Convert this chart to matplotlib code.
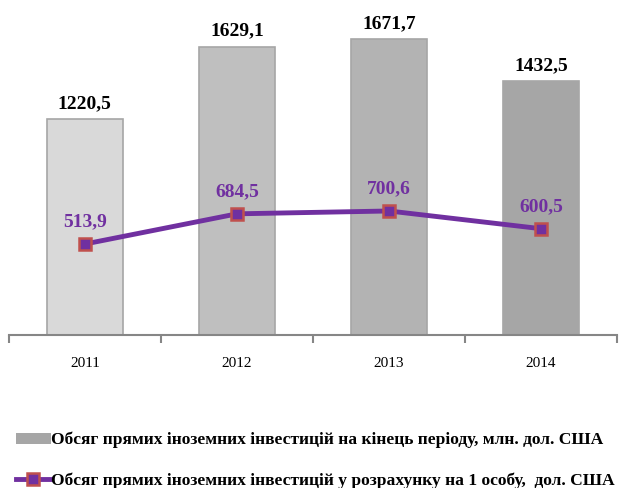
import matplotlib
matplotlib.use("Agg")
import matplotlib.pyplot as plt
from matplotlib.patches import Patch
from matplotlib.lines import Line2D

years = ["2011", "2012", "2013", "2014"]
fdi_total = [1220.5, 1629.1, 1671.7, 1432.5]
fdi_per_capita = [513.9, 684.5, 700.6, 600.5]
total_labels = ["1220,5", "1629,1", "1671,7", "1432,5"]
capita_labels = ["513,9", "684,5", "700,6", "600,5"]
bar_colors = ["#D9D9D9", "#BFBFBF", "#B3B3B3", "#A6A6A6"]

plt.rcParams['font.family'] = ['Liberation Serif', 'DejaVu Serif']

fig = plt.figure(figsize=(6.31, 4.88), dpi=100)
ax = fig.add_axes([0.014, 0.3135, 0.964, 0.653])

x = range(len(years))
ax.bar(x, fdi_total, width=0.5, color=bar_colors, edgecolor="#A6A6A6", linewidth=1.2, zorder=2)
ax.plot(x, fdi_per_capita, color="#7030A0", linewidth=3.5, marker="s", markersize=9,
        markerfacecolor="#7030A0", markeredgecolor="#C0504D", markeredgewidth=1.8, zorder=3)

for i in x:
    ax.annotate(total_labels[i], (i, fdi_total[i]), xytext=(0, 5), textcoords="offset points",
                ha="center", va="bottom", fontsize=14, fontweight="bold", color="black")
    ax.annotate(capita_labels[i], (i, fdi_per_capita[i]), xytext=(0, 10), textcoords="offset points",
                ha="center", va="bottom", fontsize=14, fontweight="bold", color="#7030A0")

ax.set_xlim(-0.5, 3.5)
ax.set_ylim(0, 1800)
ax.set_yticks([])
for s in ["top", "right", "left"]:
    ax.spines[s].set_visible(False)
ax.spines["bottom"].set_color("#868686")
ax.spines["bottom"].set_linewidth(1.5)

ax.set_xticks([-0.5, 0.5, 1.5, 2.5, 3.5], minor=False)
ax.set_xticklabels([])
ax.tick_params(axis="x", which="major", length=6, width=1.5, color="#868686")
ax.set_xticks(list(x), minor=True)
ax.set_xticklabels(years, minor=True)
ax.tick_params(axis="x", which="minor", length=0, pad=16, labelsize=11)

handles = [
    Patch(facecolor="#A6A6A6", edgecolor="none"),
    Line2D([0], [0], color="#7030A0", linewidth=3.5, marker="s", markersize=9,
           markerfacecolor="#7030A0", markeredgecolor="#C0504D", markeredgewidth=1.8),
]
labels = [
    "Обсяг прямих іноземних інвестицій на кінець періоду, млн. дол. США",
    "Обсяг прямих іноземних інвестицій у розрахунку на 1 особу,  дол. США",
]
leg = fig.legend(handles, labels, loc="lower left", bbox_to_anchor=(0.0, -0.035), frameon=False,
                 prop={"weight": "bold", "size": 12.6}, handlelength=2.0, handletextpad=0.02,
                 labelspacing=1.4, handleheight=0.6, borderaxespad=0.5)

fig.savefig("out.png", dpi=100)
